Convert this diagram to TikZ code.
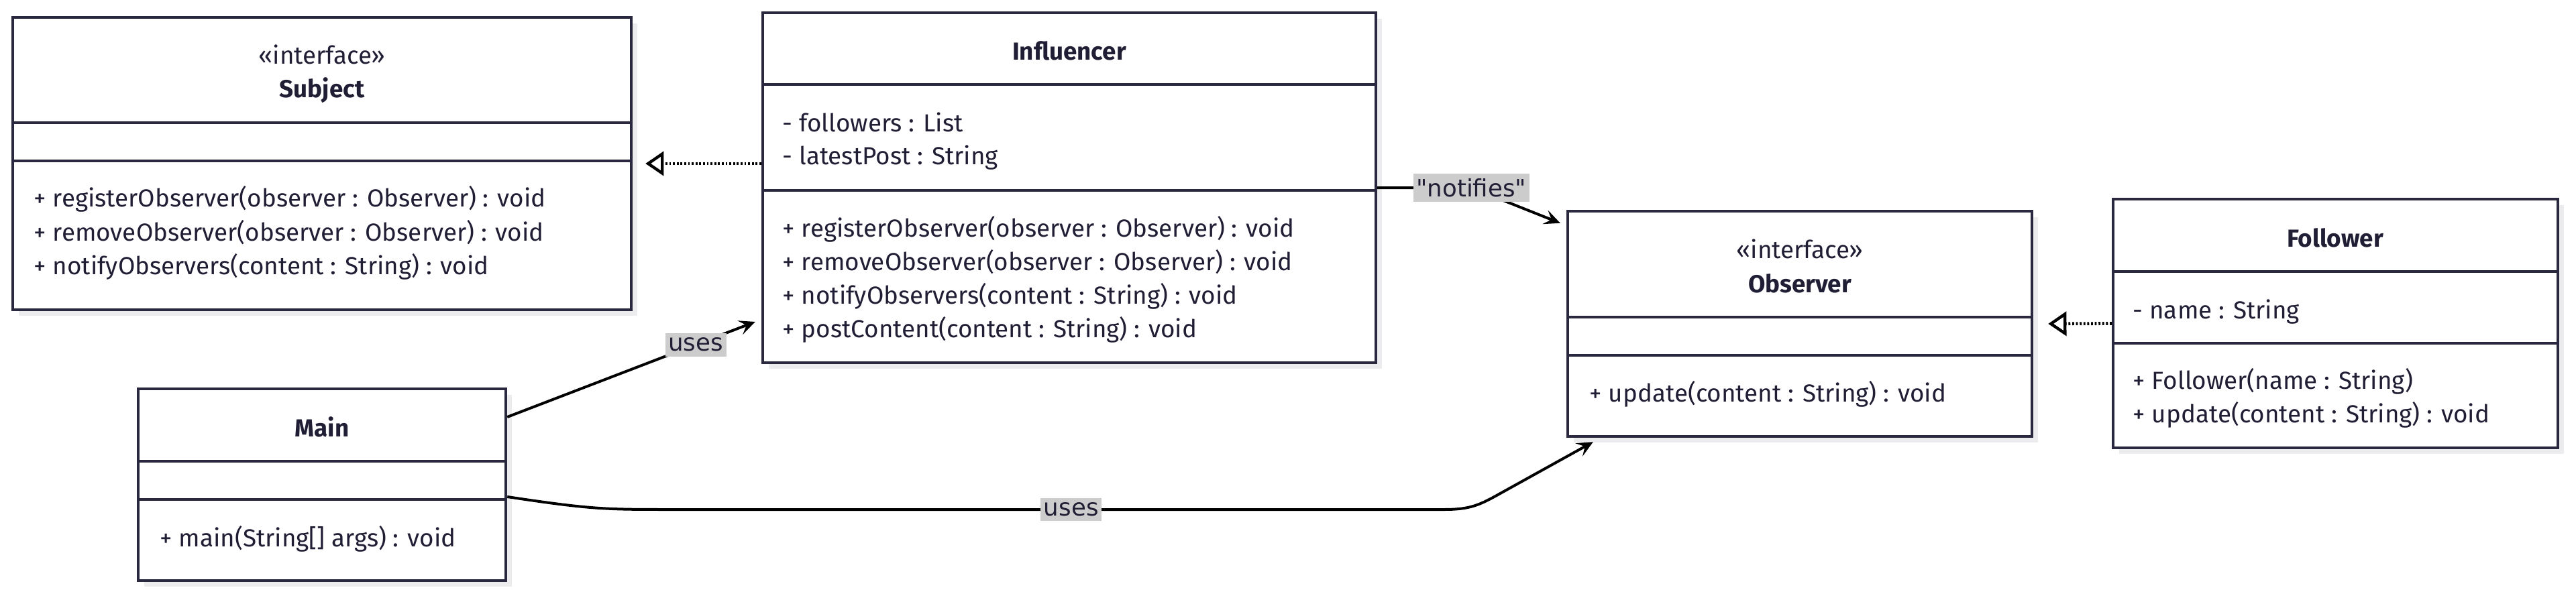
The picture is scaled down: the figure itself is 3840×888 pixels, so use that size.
\documentclass[tikz,border=0pt]{standalone}
\usepackage{fontspec}
\setmainfont{Fira Sans}
\newfontfamily\lblfont{DejaVu Sans}
\usetikzlibrary{arrows.meta}
\definecolor{boxc}{RGB}{42,40,62}
\definecolor{txtc}{RGB}{32,30,52}
\definecolor{shadc}{RGB}{236,236,238}
\definecolor{lblbg}{RGB}{204,204,204}
\newcommand\umlbox[7]{% name, x1, y1, x2, y2, sep1, sep2
  \fill[shadc] ({#2+9},{#3+9}) rectangle ({#4+9},{#5+9});
  \pgfmathsetlengthmacro\bw{(#4-#2)*0.25}%
  \pgfmathsetlengthmacro\bh{(#5-#3)*0.25}%
  \node[umlbox, minimum width=\bw, minimum height=\bh] (#1) at ({(#2+#4)/2},{(#3+#5)/2}) {};
  \draw[boxline] (#1.west |- 0,#6) -- (#1.east |- 0,#6);
  \draw[boxline] (#1.west |- 0,#7) -- (#1.east |- 0,#7);
}
\tikzset{
  umlbox/.style={draw=boxc, line width=1.1pt, fill=white, inner sep=0pt, rectangle},
  boxline/.style={draw=boxc, line width=1.1pt},
  mtxt/.style={anchor=base west, inner sep=0pt, text=txtc, font=\fontsize{9.2pt}{11pt}\selectfont},
  ctxt/.style={anchor=base, inner sep=0pt, text=txtc, font=\fontsize{9.2pt}{11pt}\selectfont},
  ttxt/.style={anchor=base, inner sep=0pt, text=txtc, font=\fontsize{9.2pt}{11pt}\selectfont\bfseries},
  edge/.style={draw=black, line width=1pt},
  dep/.style={edge, -{Stealth[length=6pt, width=5.5pt, inset=2.5pt]}},
  real/.style={edge, line width=1.2pt, dash pattern=on 0.7pt off 0.7pt, -{Triangle[open, length=6.8pt, width=9pt, line width=1.1pt]}},
  lbl/.style={fill=lblbg, text=txtc, inner xsep=1.2pt, inner ysep=1.8pt, font=\lblfont\fontsize{8.9pt}{10pt}\selectfont}
}
\begin{document}
\begin{tikzpicture}[x=0.25pt, y=-0.25pt]
\useasboundingbox (0,0) rectangle (3840,888);
\fill[white] (0,0) rectangle (3840,888);

% Subject
\umlbox{subject}{19}{26}{941}{462}{183}{240}
\node[ctxt] (subjst) at (480,96) {«interface»};
\node[ttxt] (subjt) at (480,146) {Subject};
\node[mtxt] (subjm1) at (50,309) {+ registerObserver(observer : Observer) : void};
\node[mtxt] (subjm2) at (50,359) {+ removeObserver(observer : Observer) : void};
\node[mtxt] (subjm3) at (50,409) {+ notifyObservers(content : String) : void};

% Influencer
\umlbox{influencer}{1137}{19}{2051}{541}{126}{284}
\node[ttxt] (inflt) at (1594,90) {Influencer};
\node[mtxt] (infla1) at (1166,196) {- followers : List};
\node[mtxt] (infla2) at (1166,246) {- latestPost : String};
\node[mtxt] (inflm1) at (1166,353) {+ registerObserver(observer : Observer) : void};
\node[mtxt] (inflm2) at (1166,403) {+ removeObserver(observer : Observer) : void};
\node[mtxt] (inflm3) at (1166,453) {+ notifyObservers(content : String) : void};
\node[mtxt] (inflm4) at (1166,503) {+ postContent(content : String) : void};

% Observer
\umlbox{observer}{2337}{315}{3029}{651}{473}{530}
\node[ctxt] (obsst) at (2683,385) {«interface»};
\node[ttxt] (obst) at (2683,436) {Observer};
\node[mtxt] (obsm1) at (2369,599) {+ update(content : String) : void};

% Follower
\umlbox{follower}{3150}{297}{3813}{668}{405}{512}
\node[ttxt] (follt) at (3481,368) {Follower};
\node[mtxt] (folla1) at (3179,475) {- name : String};
\node[mtxt] (follm1) at (3179,580) {+ Follower(name : String)};
\node[mtxt] (follm2) at (3179,630) {+ update(content : String) : void};

% Main
\umlbox{main}{206}{580}{754}{866}{688}{745}
\node[ttxt] (maint) at (480,651) {Main};
\node[mtxt] (mainm1) at (238,815) {+ main(String[] args) : void};

% Edges
\draw[real] (influencer.west |- subject.east) -- ([xshift=19*0.25pt]subject.east);
\draw[real] (follower.west) -- ([xshift=22*0.25pt]observer.east);
\draw[dep] (influencer.east) -- ++(140,0) node[lbl, pos=1] (lnotif) {"notifies"}
  -- ([shift={(-9,20)}]observer.north west);
\draw[dep] ([shift={(0,-101)}]main.east) -- node[lbl, pos=0.76] (luses1) {uses}
  ([shift={(-9,200)}]influencer.west);
\draw[dep] ([shift={(0,18)}]main.east) .. controls ++(126,19) and ++(-100,0) .. ++(246,19)
  -- ++(1150,0) node[lbl, pos=0.517] (luses2) {uses}
  .. controls ++(35,0) and ++(-27,15) .. ++(77,-20)
  -- ([shift={(40,6)}]observer.south west);
\end{tikzpicture}
\end{document}
